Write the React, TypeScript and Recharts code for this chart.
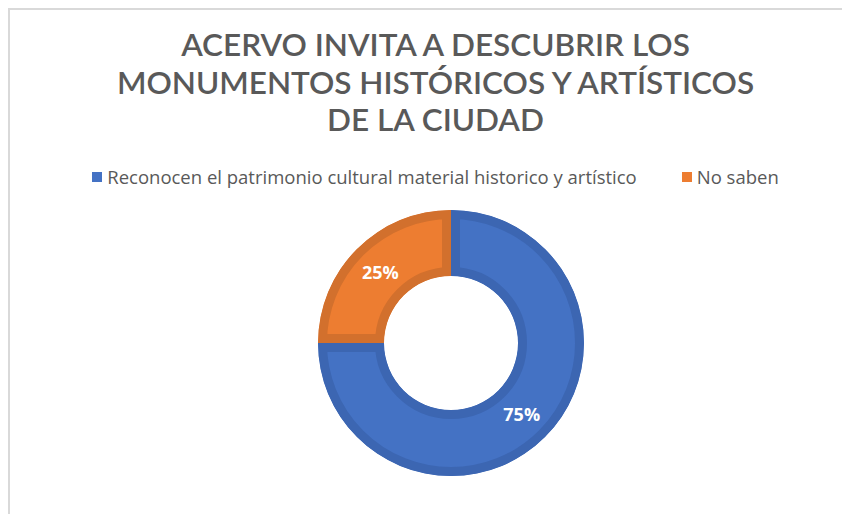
import React from 'react';
import { PieChart, Pie, Cell } from 'recharts';

const categories = [
  'Reconocen el patrimonio cultural material historico y artístico',
  'No saben',
];
const values = [75, 25];
const fillColors = ['#4472C4', '#ED7D31'];
const borderColors = ['#3C66B2', '#D2702D'];
const titleLines = [
  'ACERVO INVITA A DESCUBRIR LOS',
  'MONUMENTOS HISTÓRICOS Y ARTÍSTICOS',
  'DE LA CIUDAD',
];

const data = categories.map((name, i) => ({ name, value: values[i] }));

const RAD = Math.PI / 180;

function sectorPath(cx: number, cy: number, ri: number, ro: number, sa: number, ea: number) {
  const pt = (r: number, a: number) => [cx + r * Math.cos(a * RAD), cy - r * Math.sin(a * RAD)];
  const large = Math.abs(ea - sa) > 180 ? 1 : 0;
  const sweep = ea < sa ? 1 : 0;
  const [ox1, oy1] = pt(ro, sa);
  const [ox2, oy2] = pt(ro, ea);
  const [ix2, iy2] = pt(ri, ea);
  const [ix1, iy1] = pt(ri, sa);
  return `M${ox1},${oy1} A${ro},${ro} 0 ${large} ${sweep} ${ox2},${oy2} L${ix2},${iy2} A${ri},${ri} 0 ${large} ${1 - sweep} ${ix1},${iy1} Z`;
}

const SliceShape = (props: any) => {
  const { cx, cy, innerRadius, outerRadius, startAngle, endAngle, index } = props;
  const d = sectorPath(cx, cy, innerRadius, outerRadius, startAngle, endAngle);
  const id = `slice-clip-${index}`;
  return (
    <g>
      <defs>
        <clipPath id={id}>
          <path d={d} />
        </clipPath>
      </defs>
      <path
        d={d}
        fill={fillColors[index]}
        stroke={borderColors[index]}
        strokeWidth={18}
        clipPath={`url(#${id})`}
      />
    </g>
  );
};

const renderLabel = (props: any) => {
  const { cx, cy, midAngle, innerRadius, outerRadius, percent } = props;
  const r = (innerRadius + outerRadius) / 2;
  const x = cx + r * Math.cos(-midAngle * RAD);
  const y = cy + r * Math.sin(-midAngle * RAD);
  return (
    <text
      x={x}
      y={y}
      fill="#FFFFFF"
      textAnchor="middle"
      dominantBaseline="central"
      fontFamily="'Open Sans', sans-serif"
      fontWeight={700}
      fontSize={18}
    >
      {`${Math.round(percent * 100)}%`}
    </text>
  );
};

export default function App() {
  return (
    <div
      style={{
        position: 'relative',
        width: 842,
        height: 506,
        borderTop: '2px solid #D9D9D9',
        borderLeft: '2px solid #D9D9D9',
        background: '#FFFFFF',
        overflow: 'hidden',
      }}
    >
      <svg width={840} height={150} style={{ position: 'absolute', left: 0, top: 0 }}>
        {titleLines.map((line, i) => (
          <text
            key={i}
            x={425.5}
            y={46 + i * 37.5}
            textAnchor="middle"
            fill="#595959"
            fontFamily="'Lato', sans-serif"
            fontSize={31.5}
            fontWeight={600}
          >
            {line}
          </text>
        ))}
      </svg>
      <div
        style={{
          position: 'absolute',
          left: 0,
          top: 156,
          width: 851,
          display: 'flex',
          justifyContent: 'center',
          alignItems: 'center',
          gap: 45,
        }}
      >
        {categories.map((name, i) => (
          <div key={i} style={{ display: 'flex', alignItems: 'center' }}>
            <span
              style={{
                display: 'inline-block',
                width: 10,
                height: 10,
                background: fillColors[i],
                marginRight: 5,
              }}
            />
            <span
              style={{
                color: '#595959',
                fontSize: 18.5,
                lineHeight: '22px',
                fontFamily: "'Open Sans', sans-serif",
              }}
            >
              {name}
            </span>
          </div>
        ))}
      </div>
      <PieChart
        width={840}
        height={504}
        margin={{ top: 0, right: 0, bottom: 0, left: 0 }}
        style={{ position: 'absolute', left: 0, top: 0 }}
      >
        <Pie
          data={data}
          dataKey="value"
          nameKey="name"
          cx={441}
          cy={333}
          innerRadius={67}
          outerRadius={133}
          startAngle={90}
          endAngle={-270}
          stroke="none"
          shape={SliceShape}
          label={renderLabel}
          labelLine={false}
          isAnimationActive={false}
        >
          {data.map((_, i) => (
            <Cell key={i} fill={fillColors[i]} />
          ))}
        </Pie>
      </PieChart>
    </div>
  );
}
